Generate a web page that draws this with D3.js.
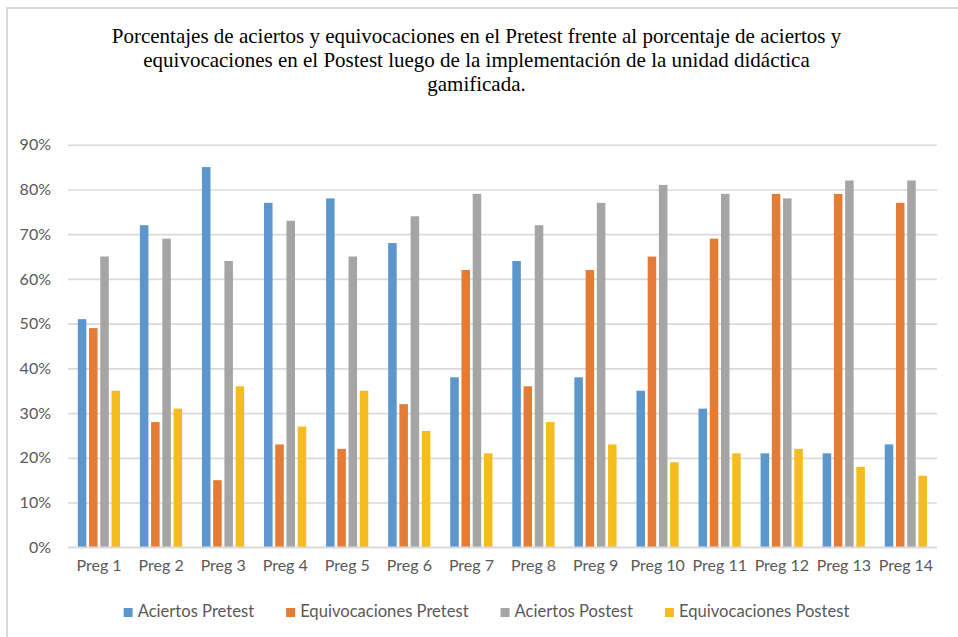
<!DOCTYPE html>
<html>
<head>
<meta charset="utf-8">
<script src="https://cdn.jsdelivr.net/npm/d3@7"></script>
<style>
  html, body { margin: 0; padding: 0; background: #fff; }
  svg { display: block; }
</style>
</head>
<body>
<svg id="chart" width="958" height="637"></svg>
<script>
// Questions on the horizontal axis
const categories = ["Preg 1", "Preg 2", "Preg 3", "Preg 4", "Preg 5", "Preg 6", "Preg 7",
                    "Preg 8", "Preg 9", "Preg 10", "Preg 11", "Preg 12", "Preg 13", "Preg 14"];

// Series names (legend order)
const seriesNames = ["Aciertos Pretest", "Equivocaciones Pretest", "Aciertos Postest", "Equivocaciones Postest"];

// Percentages per question
const aciertosPretest       = [0.51, 0.72, 0.85, 0.77, 0.78, 0.68, 0.38, 0.64, 0.38, 0.35, 0.31, 0.21, 0.21, 0.23];
const equivocacionesPretest = [0.49, 0.28, 0.15, 0.23, 0.22, 0.32, 0.62, 0.36, 0.62, 0.65, 0.69, 0.79, 0.79, 0.77];
const aciertosPostest       = [0.65, 0.69, 0.64, 0.73, 0.65, 0.74, 0.79, 0.72, 0.77, 0.81, 0.79, 0.78, 0.82, 0.82];
const equivocacionesPostest = [0.35, 0.31, 0.36, 0.27, 0.35, 0.26, 0.21, 0.28, 0.23, 0.19, 0.21, 0.22, 0.18, 0.16];

// Y axis ticks
const yTicks = [0, 0.1, 0.2, 0.3, 0.4, 0.5, 0.6, 0.7, 0.8, 0.9];

const titleLines = [
  "Porcentajes de aciertos y equivocaciones en el Pretest frente al porcentaje de aciertos y",
  "equivocaciones en el Postest luego de la implementación de la unidad didáctica",
  "gamificada."
];

const colors = ["#5b96cc", "#e57c36", "#a5a5a5", "#f5bc1f"];

const seriesValues = [aciertosPretest, equivocacionesPretest, aciertosPostest, equivocacionesPostest];
const rows = categories.map((c, i) => ({
  cat: c,
  values: seriesNames.map((s, k) => ({ key: s, value: seriesValues[k][i] }))
}));

const svg = d3.select("#chart");
const W = 958, H = 637;
const plot = { left: 68, right: 937, top: 144.7, bottom: 547.3 };
const labelFont = "Lato, 'Open Sans', sans-serif";
const textGray = "#595959";
const gridGray = "#d9d9d9";

// Outer chart frame
svg.append("rect")
  .attr("x", 7).attr("y", 8)
  .attr("width", W + 10).attr("height", H + 10)
  .attr("fill", "none")
  .attr("stroke", gridGray)
  .attr("stroke-width", 2);

// Title
const title = svg.append("text")
  .attr("text-anchor", "middle")
  .attr("font-family", "'Liberation Serif', 'Times New Roman', serif")
  .attr("font-size", 21)
  .attr("fill", "#000");
titleLines.forEach((t, i) => {
  title.append("tspan").attr("x", 476.5).attr("y", 43 + i * 24).text(t);
});

// Scales
const y = d3.scaleLinear().domain([0, 0.9]).range([plot.bottom, plot.top]);
const x0 = d3.scaleBand().domain(categories).range([plot.left, plot.right]).padding(0);
const bw = x0.bandwidth();
const x1 = d3.scaleBand().domain(seriesNames)
  .range([0.158 * bw, 0.838 * bw])
  .paddingInner(0.24).paddingOuter(0);
const color = d3.scaleOrdinal().domain(seriesNames).range(colors);

// Gridlines via axis
const yGrid = svg.append("g")
  .attr("transform", `translate(${plot.left},0)`)
  .call(d3.axisLeft(y).tickValues(yTicks).tickSize(-(plot.right - plot.left)).tickFormat(""));
yGrid.select(".domain").remove();
yGrid.selectAll(".tick line").attr("stroke", gridGray).attr("stroke-width", 1.6);

// Y tick labels
const yAxis = svg.append("g")
  .attr("transform", `translate(51,0)`)
  .call(d3.axisLeft(y).tickValues(yTicks).tickSize(0).tickPadding(0).tickFormat(d3.format(".0%")));
yAxis.select(".domain").remove();
yAxis.selectAll("text")
  .attr("font-family", labelFont)
  .attr("font-size", 16)
  .attr("fill", textGray);

// Bars
const groups = svg.append("g").selectAll("g")
  .data(rows)
  .join("g")
  .attr("transform", d => `translate(${x0(d.cat)},0)`);
groups.selectAll("rect")
  .data(d => d.values)
  .join("rect")
  .attr("x", d => x1(d.key))
  .attr("width", x1.bandwidth())
  .attr("y", d => y(d.value))
  .attr("height", d => y(0) - y(d.value))
  .attr("fill", d => color(d.key));

// Baseline
svg.append("line")
  .attr("x1", plot.left).attr("x2", plot.right)
  .attr("y1", y(0)).attr("y2", y(0))
  .attr("stroke", gridGray).attr("stroke-width", 1.6);

// X axis labels
const xAxis = svg.append("g")
  .attr("transform", `translate(0,${plot.bottom})`)
  .call(d3.axisBottom(x0).tickSize(0).tickPadding(12));
xAxis.select(".domain").remove();
xAxis.selectAll("text")
  .attr("font-family", labelFont)
  .attr("font-size", 16)
  .attr("fill", textGray);

// Legend
const legend = svg.append("g");
const items = legend.selectAll("g").data(seriesNames).join("g");
items.append("rect")
  .attr("width", 9).attr("height", 9)
  .attr("y", 608)
  .attr("fill", d => color(d));
items.append("text")
  .attr("x", 14)
  .attr("y", 617)
  .attr("font-family", labelFont)
  .attr("font-size", 16.6)
  .attr("fill", textGray)
  .text(d => d);
let cursor = 0;
const offsets = [];
items.each(function () {
  const w = d3.select(this).select("text").node().getComputedTextLength();
  offsets.push(cursor);
  cursor += 14 + w + 32;
});
const total = cursor - 32;
const startX = 486.5 - total / 2;
items.attr("transform", (d, i) => `translate(${startX + offsets[i]},0)`);
</script>
</body>
</html>
